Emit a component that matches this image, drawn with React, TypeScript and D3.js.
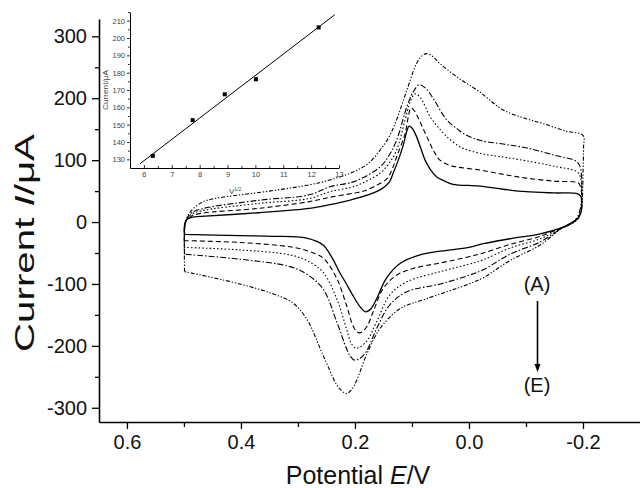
import React, { useEffect, useRef } from 'react';
import * as d3 from 'd3';

type Pt = [number, number];

// Cyclic voltammograms, (E / V, I / µA), each loop: left corner -> upper branch -> right end -> lower branch
const curveA: Pt[] = [
  [0.499, -20], [0.499, -5], [0.496, 3], [0.485, 8], [0.47, 9], [0.37, 15], [0.28, 22], [0.244, 28],
  [0.21, 35], [0.18, 43], [0.156, 52], [0.14, 64], [0.133, 79], [0.124, 100], [0.115, 125], [0.109, 147],
  [0.105, 155], [0.1, 152], [0.092, 138], [0.084, 118], [0.077, 100], [0.067, 84], [0.057, 73], [0.04, 65],
  [0.028, 61], [-0.019, 58], [-0.06, 53], [-0.1, 49], [-0.15, 47], [-0.19, 46], [-0.196, 42], [-0.198, 28],
  [-0.196, 14], [-0.19, 5], [-0.18, -1], [-0.163, -9], [-0.125, -19], [-0.072, -27], [-0.025, -35], [0.0, -41],
  [0.05, -47], [0.086, -53], [0.121, -67], [0.145, -91], [0.162, -124], [0.172, -140], [0.181, -145],
  [0.19, -138], [0.204, -118], [0.215, -100], [0.227, -81], [0.24, -58], [0.256, -37], [0.285, -26],
  [0.344, -23], [0.402, -22], [0.499, -20],
];

const curveB: Pt[] = [
  [0.499, -30], [0.499, -8], [0.496, 2], [0.488, 9], [0.47, 14], [0.37, 22], [0.28, 33], [0.244, 40],
  [0.2, 47], [0.185, 50], [0.165, 58], [0.144, 70], [0.135, 85], [0.127, 105], [0.112, 143], [0.106, 172],
  [0.102, 184], [0.096, 180], [0.085, 160], [0.074, 138], [0.062, 115], [0.051, 100], [0.035, 92],
  [0.022, 89], [-0.019, 84], [-0.06, 77], [-0.1, 71], [-0.15, 66], [-0.192, 63], [-0.196, 55], [-0.198, 35],
  [-0.196, 15], [-0.19, 5], [-0.18, -2], [-0.163, -9], [-0.125, -23], [-0.072, -36], [-0.025, -50],
  [0.0, -56], [0.05, -66], [0.098, -75], [0.127, -86], [0.151, -108], [0.168, -145], [0.18, -170],
  [0.192, -179], [0.201, -172], [0.215, -134], [0.232, -91], [0.256, -58], [0.285, -46], [0.314, -40],
  [0.402, -33], [0.499, -30],
];

const curveC: Pt[] = [
  [0.499, -41], [0.499, -10], [0.496, 3], [0.488, 12], [0.47, 18], [0.37, 30], [0.28, 38], [0.244, 49],
  [0.2, 58], [0.156, 79], [0.14, 95], [0.127, 116], [0.112, 165], [0.104, 192], [0.095, 207], [0.086, 202],
  [0.068, 170], [0.053, 152], [0.039, 138], [0.02, 124], [0.01, 119], [-0.019, 111], [-0.06, 105],
  [-0.1, 99], [-0.15, 90], [-0.19, 81], [-0.196, 70], [-0.198, 45], [-0.196, 20], [-0.19, 6], [-0.18, -2],
  [-0.163, -10], [-0.125, -27], [-0.072, -42], [-0.025, -61], [0.0, -68], [0.05, -80], [0.11, -97],
  [0.139, -118], [0.162, -161], [0.18, -193], [0.198, -204], [0.207, -195], [0.215, -172], [0.232, -124],
  [0.256, -81], [0.285, -62], [0.314, -53], [0.402, -45], [0.499, -41],
];

const curveD: Pt[] = [
  [0.499, -52], [0.499, -12], [0.496, 3], [0.488, 14], [0.47, 21], [0.37, 35], [0.28, 44], [0.244, 57],
  [0.2, 66], [0.156, 89], [0.14, 108], [0.127, 132], [0.109, 186], [0.098, 210], [0.087, 222], [0.075, 215],
  [0.063, 200], [0.039, 165], [0.02, 150], [0.01, 143], [-0.019, 132], [-0.06, 126], [-0.1, 120],
  [-0.15, 108], [-0.19, 97], [-0.196, 85], [-0.198, 55], [-0.196, 25], [-0.19, 8], [-0.18, -2],
  [-0.163, -10], [-0.125, -32], [-0.072, -52], [-0.025, -77], [0.0, -86], [0.05, -100], [0.11, -113],
  [0.139, -134], [0.162, -172], [0.18, -209], [0.191, -220], [0.201, -223], [0.208, -217], [0.215, -204],
  [0.232, -161], [0.256, -108], [0.285, -84], [0.314, -72], [0.402, -60], [0.499, -52],
];

const curveE: Pt[] = [
  [0.499, -80], [0.499, -20], [0.497, 0], [0.49, 15], [0.475, 28], [0.46, 35], [0.35, 50], [0.28, 60],
  [0.244, 68], [0.2, 82], [0.175, 96], [0.156, 116], [0.14, 138], [0.127, 165], [0.109, 213], [0.092, 256],
  [0.083, 268], [0.074, 272], [0.063, 267], [0.051, 256], [0.022, 235], [-0.019, 210], [-0.06, 181],
  [-0.1, 167], [-0.13, 159], [-0.17, 147], [-0.2, 140], [-0.201, 120], [-0.2, 80], [-0.199, 40],
  [-0.196, 15], [-0.19, 4], [-0.18, -3], [-0.163, -10], [-0.125, -37], [-0.072, -62], [-0.025, -90],
  [0.0, -100], [0.075, -124], [0.121, -140], [0.156, -172], [0.18, -215], [0.198, -258], [0.207, -272],
  [0.215, -277], [0.224, -272], [0.232, -263], [0.256, -215], [0.285, -156], [0.31, -130], [0.344, -116],
  [0.402, -100], [0.499, -80],
];

const curves = [curveA, curveB, curveC, curveD, curveE];
const curveDash = ['none', '5,3', '1.5,2.2', '6,2,1.5,2', '4,1.8,1.3,1.8,1.3,1.8'];

const yTicks = [-300, -200, -100, 0, 100, 200, 300];
const yMinorTicks = [-250, -150, -50, 50, 150, 250];
const xTicks = [0.6, 0.4, 0.2, 0.0, -0.2];
const xMinorTicks = [0.5, 0.3, 0.1, -0.1];

// inset: peak current vs square root of scan rate
const sqrtRate = [6.32, 7.75, 8.9, 10.02, 12.27];
const peakCurrent = [132, 152.6, 167.5, 176.2, 206.1];
const fitSlope = 12.3;
const fitIntercept = 55.4;
const fitRange = [5.86, 12.85];
const insetXTicks = [6, 7, 8, 9, 10, 11, 12, 13];
const insetXMinor = [5.5, 6.5, 7.5, 8.5, 9.5, 10.5, 11.5, 12.5];
const insetYTicks = [130, 140, 150, 160, 170, 180, 190, 200, 210];
const insetYMinor = [135, 145, 155, 165, 175, 185, 195, 205, 215];

const FONT = '"Liberation Sans", Arial, Helvetica, sans-serif';

const App = () => {
  const svgRef = useRef<SVGSVGElement>(null);

  useEffect(() => {
    const svg = d3.select(svgRef.current);
    if (!svgRef.current) return;
    svg.selectAll('*').remove();

    const x = d3.scaleLinear().domain([0.649, -0.3]).range([99, 640]);
    const y = d3.scaleLinear().domain([-323, 328]).range([422, 19]);

    // main axes
    const yAxis = svg.append('g').attr('transform', 'translate(99,0)')
      .call(d3.axisLeft(y).tickValues(yTicks).tickSize(7).tickPadding(5).tickSizeOuter(0).tickFormat(d => String(d)));
    svg.append('g').attr('transform', 'translate(99,0)')
      .call(d3.axisLeft(y).tickValues(yMinorTicks).tickSize(4).tickSizeOuter(0).tickFormat(() => ''))
      .select('.domain').remove();
    const xAxis = svg.append('g').attr('transform', 'translate(0,422)')
      .call(d3.axisBottom(x).tickValues(xTicks).tickSize(7).tickPadding(6).tickSizeOuter(0).tickFormat(d => (d as number).toFixed(1)));
    svg.append('g').attr('transform', 'translate(0,422)')
      .call(d3.axisBottom(x).tickValues(xMinorTicks).tickSize(5).tickSizeOuter(0).tickFormat(() => ''))
      .select('.domain').remove();

    svg.selectAll('.domain').attr('stroke', '#000').attr('stroke-width', 1.6);
    svg.selectAll('.tick line').attr('stroke', '#000').attr('stroke-width', 1.3);
    [yAxis, xAxis].forEach(a => a.selectAll('text').attr('font-family', FONT).attr('font-size', 20).attr('fill', '#111'));

    // axis titles
    const yt = svg.append('text')
      .attr('transform', 'translate(34,352) rotate(-90)')
      .attr('font-family', FONT).attr('font-size', 28).attr('fill', '#111')
      .attr('textLength', 218).attr('lengthAdjust', 'spacingAndGlyphs');
    yt.append('tspan').text('Current ');
    yt.append('tspan').attr('font-style', 'italic').text('I');
    yt.append('tspan').text('/μA');

    const xt = svg.append('text')
      .attr('x', 358).attr('y', 484).attr('text-anchor', 'middle')
      .attr('font-family', FONT).attr('font-size', 25).attr('fill', '#111');
    xt.append('tspan').text('Potential ');
    xt.append('tspan').attr('font-style', 'italic').text('E');
    xt.append('tspan').text('/V');

    // voltammograms
    const line = d3.line<Pt>()
      .x(d => x(d[0]))
      .y(d => y(d[1]))
      .curve(d3.curveCatmullRom.alpha(0.5));

    curves.forEach((c, i) => {
      svg.append('path')
        .datum(c)
        .attr('fill', 'none')
        .attr('stroke', '#000')
        .attr('stroke-width', i === 0 ? 1.3 : 1.1)
        .attr('stroke-dasharray', curveDash[i])
        .attr('d', line);
    });

    // (A) -> (E) arrow
    svg.append('text').attr('x', 537).attr('y', 291).attr('text-anchor', 'middle')
      .attr('font-family', FONT).attr('font-size', 20).attr('fill', '#111').text('(A)');
    svg.append('text').attr('x', 537).attr('y', 392).attr('text-anchor', 'middle')
      .attr('font-family', FONT).attr('font-size', 20).attr('fill', '#111').text('(E)');
    svg.append('line').attr('x1', 537.5).attr('x2', 537.5).attr('y1', 301).attr('y2', 366)
      .attr('stroke', '#000').attr('stroke-width', 1.6);
    svg.append('path').attr('d', 'M534.5,364 L540.5,364 L537.5,372 Z').attr('fill', '#000');

    // inset
    const xi = d3.scaleLinear().domain([5.5, 13]).range([130, 339]);
    const yi = d3.scaleLinear().domain([125, 215]).range([168, 12]);
    const inset = svg.append('g');

    const iy = inset.append('g').attr('transform', 'translate(130,0)')
      .call(d3.axisLeft(yi).tickValues(insetYTicks).tickSize(3).tickPadding(2).tickSizeOuter(0).tickFormat(d => String(d)));
    inset.append('g').attr('transform', 'translate(130,0)')
      .call(d3.axisLeft(yi).tickValues(insetYMinor).tickSize(2).tickSizeOuter(0).tickFormat(() => ''))
      .select('.domain').remove();
    const ix = inset.append('g').attr('transform', 'translate(0,168)')
      .call(d3.axisBottom(xi).tickValues(insetXTicks).tickSize(-3).tickPadding(4).tickSizeOuter(0).tickFormat(d => String(d)));
    inset.append('g').attr('transform', 'translate(0,168)')
      .call(d3.axisBottom(xi).tickValues(insetXMinor).tickSize(-2).tickSizeOuter(0).tickFormat(() => ''))
      .select('.domain').remove();
    inset.selectAll('.domain').attr('stroke', '#000').attr('stroke-width', 1);
    inset.selectAll('.tick line').attr('stroke', '#000').attr('stroke-width', 0.8);
    [iy, ix].forEach(a => a.selectAll('text').attr('font-family', FONT).attr('font-size', 7.5).attr('fill', '#444'));

    inset.append('text')
      .attr('transform', 'translate(108,110) rotate(-90)')
      .attr('font-family', FONT).attr('font-size', 7).attr('fill', '#444')
      .attr('textLength', 40).attr('lengthAdjust', 'spacingAndGlyphs')
      .text('Current/μA');
    const vt = inset.append('text').attr('x', 229).attr('y', 194)
      .attr('font-family', FONT).attr('font-size', 8).attr('fill', '#444');
    vt.append('tspan').text('V');
    vt.append('tspan').attr('font-size', 5).attr('dy', -3).text('1/2');

    inset.append('line')
      .attr('x1', xi(fitRange[0])).attr('y1', yi(fitIntercept + fitSlope * fitRange[0]))
      .attr('x2', xi(fitRange[1])).attr('y2', yi(fitIntercept + fitSlope * fitRange[1]))
      .attr('stroke', '#000').attr('stroke-width', 1);

    inset.selectAll('rect.pt')
      .data(sqrtRate.map((v, i) => [v, peakCurrent[i]] as Pt))
      .enter().append('rect')
      .attr('x', d => xi(d[0]) - 2).attr('y', d => yi(d[1]) - 2)
      .attr('width', 4).attr('height', 4).attr('fill', '#000');
  }, []);

  return (
    <svg
      ref={svgRef}
      width={640}
      height={488}
      style={{ position: 'absolute', left: 0, top: 0, background: '#fff' }}
    />
  );
};

export default App;
